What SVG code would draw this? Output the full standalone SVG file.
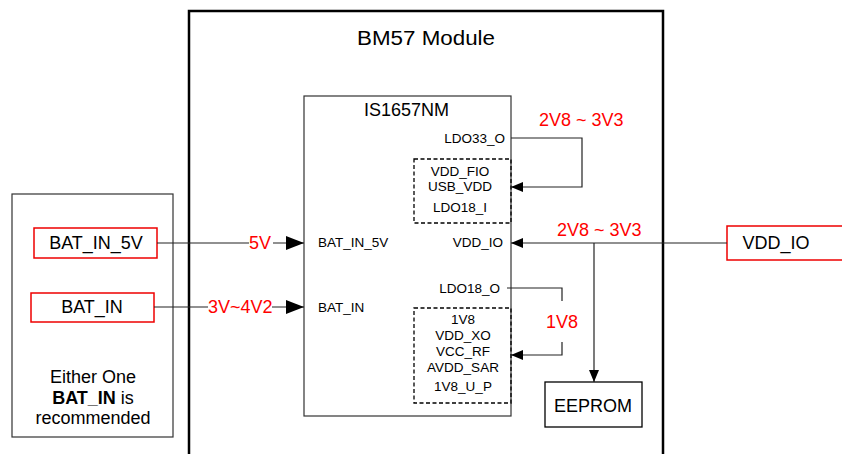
<svg xmlns="http://www.w3.org/2000/svg" width="842" height="454" viewBox="0 0 842 454">
<style>
text{font-family:"Liberation Sans",Arial,sans-serif;fill:#000}
.t12{font-size:13.5px}
.t15{font-size:18px}
.red{fill:#f00;font-size:18px}
.mid{text-anchor:middle}
.end{text-anchor:end}
.wire{stroke:#222;stroke-width:1.2;fill:none}
.rbox{fill:#fff;stroke:#e00;stroke-width:1.5}
.dash{fill:none;stroke:#000;stroke-width:1.3;stroke-dasharray:4,2.5}
</style>
<defs>
<marker id="big" markerWidth="18" markerHeight="14" refX="18" refY="7" orient="auto" markerUnits="userSpaceOnUse"><path d="M0,0 L18,7 L0,14 Z" fill="#000"/></marker>
<marker id="sm" markerWidth="12" markerHeight="10" refX="12" refY="5" orient="auto" markerUnits="userSpaceOnUse"><path d="M0,0 L12,5 L0,10 Z" fill="#000"/></marker>
</defs>
<rect width="842" height="454" fill="#fff"/>

<g id="left-box">
<rect x="12" y="194" width="161" height="243" fill="#fff" stroke="#333" stroke-width="1.2"/>
<text class="t15 mid" x="93" y="383">Either One</text>
<text class="t15 mid" x="93" y="404"><tspan font-weight="bold">BAT_IN</tspan> is</text>
<text class="t15 mid" x="93" y="424">recommended</text>
</g>

<g id="module">
<rect x="189" y="11" width="474" height="460" fill="none" stroke="#000" stroke-width="2.5"/>
<text x="357" y="45" font-size="20" textLength="138" lengthAdjust="spacingAndGlyphs">BM57 Module</text>
</g>

<g id="bat-in-5v">
<rect class="rbox" x="34" y="228" width="123" height="30"/>
<text class="t15 mid" x="96" y="249">BAT_IN_5V</text>
</g>
<g id="bat-in">
<rect class="rbox" x="31" y="293" width="123" height="29"/>
<text class="t15 mid" x="92" y="313">BAT_IN</text>
</g>

<g id="ic">
<rect x="304" y="96" width="207" height="320" fill="#fff" stroke="#333" stroke-width="1.2"/>
<text x="364" y="116" font-size="18">IS1657NM</text>
<text class="t12 end" x="505" y="143">LDO33_O</text>
<text class="t12 end" x="503" y="247">VDD_IO</text>
<text class="t12 end" x="500" y="293">LDO18_O</text>
<text class="t12" x="318" y="247">BAT_IN_5V</text>
<text class="t12" x="318" y="312">BAT_IN</text>
</g>

<g id="group-fio">
<rect class="dash" x="414" y="159" width="97" height="64"/>
<text class="t12 mid" x="460" y="176">VDD_FIO</text>
<text class="t12 mid" x="460" y="191">USB_VDD</text>
<text class="t12 mid" x="460" y="212">LDO18_I</text>
</g>

<g id="group-1v8">
<rect class="dash" x="414" y="308" width="97" height="95"/>
<text class="t12 mid" x="463" y="324">1V8</text>
<text class="t12 mid" x="463" y="340">VDD_XO</text>
<text class="t12 mid" x="463" y="356">VCC_RF</text>
<text class="t12 mid" x="463" y="372">AVDD_SAR</text>
<text class="t12 mid" x="463" y="391">1V8_U_P</text>
</g>

<g id="eeprom">
<rect x="545" y="382" width="97" height="45" fill="#fff" stroke="#000" stroke-width="1.3"/>
<text class="t15 mid" x="593" y="412">EEPROM</text>
</g>

<g id="vdd-io">
<rect class="rbox" x="727" y="226" width="120" height="34"/>
<text class="t15 mid" x="776" y="249">VDD_IO</text>
</g>

<g id="connectors">
<path class="wire" d="M157,243 H249 M273,243 H304" marker-end="url(#big)"/>
<text class="red" x="249" y="249">5V</text>
<path class="wire" d="M154,307 H208 M272,307 H304" marker-end="url(#big)"/>
<text class="red" x="208" y="313">3V~4V2</text>

<path class="wire" d="M511,138 H582 V187 H511" marker-end="url(#sm)"/>
<text class="red" x="539" y="126">2V8 ~ 3V3</text>

<path class="wire" d="M727,243 H511" marker-end="url(#sm)"/>
<path class="wire" d="M594,243 V382" marker-end="url(#sm)"/>
<text class="red" x="557" y="236">2V8 ~ 3V3</text>

<path class="wire" d="M507,288 H562 V301 M562,342 V355 H511" marker-end="url(#sm)"/>
<text class="red mid" x="562" y="328">1V8</text>
</g>
</svg>
